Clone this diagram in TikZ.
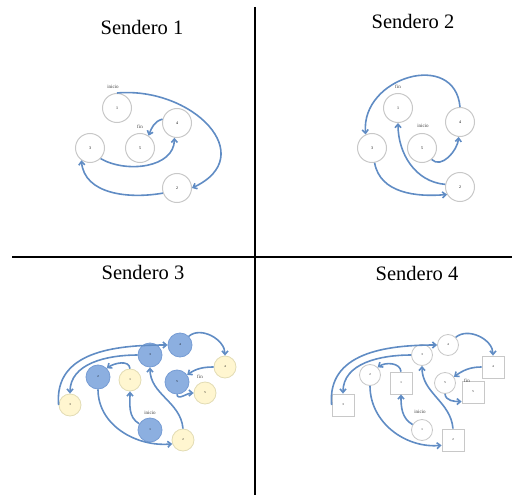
\documentclass[tikz,border=0pt]{standalone}
\usepackage{fontspec}
\setmainfont{Liberation Serif}
\usepackage{tikz}
\usetikzlibrary{arrows.meta,calc,positioning}
\usepackage{xcolor}
\definecolor{arrowblue}{RGB}{96,140,196}
\definecolor{nodeblue}{RGB}{140,175,224}
\definecolor{nodeblueline}{RGB}{118,156,212}
\definecolor{nodeyel}{RGB}{255,246,208}
\definecolor{nodeyelline}{RGB}{226,220,180}
\definecolor{ringgray}{RGB}{200,200,200}

\begin{document}
\begin{tikzpicture}[
    x=1pt, y=-1pt,
    circ/.style={circle, draw=ringgray, line width=1pt, fill=white, minimum size=29pt, inner sep=0pt, font=\fontsize{4}{5}\selectfont},
    bluecirc/.style={circle, draw=nodeblueline, line width=0.8pt, fill=nodeblue, minimum size=24pt, inner sep=0pt, font=\fontsize{3}{4}\selectfont},
    yelcirc/.style={circle, draw=nodeyelline, line width=0.8pt, fill=nodeyel, minimum size=22pt, inner sep=0pt, font=\fontsize{3}{4}\selectfont},
    smallcirc/.style={circle, draw=ringgray, line width=0.8pt, fill=white, minimum size=21pt, inner sep=0pt, font=\fontsize{3}{4}\selectfont},
    sq/.style={rectangle, draw=ringgray, line width=0.8pt, fill=white, minimum size=22pt, inner sep=0pt, font=\fontsize{3}{4}\selectfont},
    arr/.style={draw=arrowblue, line width=1.6pt, -{Straight Barb[length=3.5pt,width=6pt]}},
    tag/.style={font=\fontsize{5}{6}\selectfont, text=black!75},
    title/.style={font=\fontsize{20.5}{24}\selectfont}
]
\useasboundingbox (0,0) rectangle (512,495);

% cuadricula
\draw[line width=1.3pt] (255,7) -- (255,495);
\draw[line width=1.3pt] (12,257) -- (512,257);

\node[title] (t1) at (142,27) {Sendero 1};
\node[title] (t2) at (413,21) {Sendero 2};
\node[title] (t3) at (143,272) {Sendero 3};
\node[title] (t4) at (417,273) {Sendero 4};

% sendero 1
\node[circ] (a1) at (117,108) {1};
\node[circ] (a2) at (177,188) {2};
\node[circ] (a3) at (90,148) {3};
\node[circ] (a4) at (177,123) {4};
\node[circ] (a5) at (140,148) {5};
\node[tag] (ai) at (113,87) {inicio};
\node[tag] (af) at (140,127) {fin};

\draw[arr] (a1.north) to[out=5,in=25,looseness=1.6] (a2.east);
\draw[arr] (a2.200) to[out=190,in=-85] (a3.235);
\draw[arr] (a3.-45) to[out=-30,in=-90] (a4.-100);
\draw[arr] (a4.165) to[out=195,in=70] (a5.55);

% sendero 2
\node[circ] (b1) at (398,108) {1};
\node[circ] (b2) at (460,187) {2};
\node[circ] (b3) at (372,148) {3};
\node[circ] (b4) at (460,122) {4};
\node[circ] (b5) at (422,148) {5};
\node[tag] (bf) at (398,87) {fin};
\node[tag] (bi) at (423,126) {inicio};

\draw[arr] (b5.-50) to[out=-45,in=-95] (b4.-95);
\draw[arr] (b4.north) to[out=95,in=95,looseness=1.5] (b3.115);
\draw[arr] (b3.-80) to[out=-80,in=185] (b2.210);
\draw[arr] (b2.170) to[out=175,in=-90] (b1.south);

% sendero 3
\node[bluecirc] (c1) at (150,430) {1};
\node[bluecirc] (c2) at (98,377) {2};
\node[bluecirc] (c3) at (150,355) {3};
\node[bluecirc] (c4) at (180,345) {4};
\node[bluecirc] (c5) at (177,382) {5};
\node[yelcirc] (d1) at (130,380) {1};
\node[yelcirc] (d2) at (183,440) {2};
\node[yelcirc] (d3) at (70,405) {3};
\node[yelcirc] (d4) at (225,367) {4};
\node[yelcirc] (d5) at (205,393) {5};
\node[tag] (ci) at (150,413) {inicio};
\node[tag] (cf) at (200,377) {fin};

\draw[arr] (c1.150) to[out=150,in=-90] (d1.south);
\draw[arr] (d1.north) to[out=95,in=35] (c2.45);
\draw[arr] (c2.south) to[out=-90,in=185] (d2.200);
\draw[arr] (d2.north) to[out=95,in=-90] (c3.south);
\draw[arr] (c3.west) to[out=180,in=90] (d3.north);
\draw[arr] (d3.west) to[out=95,in=180,looseness=1.1] (c4.west);
\draw[arr] (c4.45) to[out=40,in=90] (d4.north);
\draw[arr] (d4.west) to[out=180,in=35] (c5.35);
\draw[arr] (c5.south) to[out=-85,in=180] (d5.west);

% sendero 4
\node[smallcirc] (e1) at (422,430) {1};
\node[smallcirc] (e2) at (370,375) {2};
\node[smallcirc] (e3) at (422,355) {3};
\node[smallcirc] (e4) at (448,345) {4};
\node[smallcirc] (e5) at (445,383) {5};
\node[sq] (f1) at (401,383) {1};
\node[sq] (f2) at (453,440) {2};
\node[sq] (f3) at (343,405) {3};
\node[sq] (f4) at (493,367) {4};
\node[sq] (f5) at (473,392) {5};
\node[tag] (ei) at (420,412) {inicio};
\node[tag] (ef) at (467,381) {fin};

\draw[arr] (e1.150) to[out=150,in=-90] (f1.south);
\draw[arr] (f1.north) to[out=95,in=35] (e2.45);
\draw[arr] (e2.south) to[out=-90,in=185] (f2.205);
\draw[arr] (f2.north) to[out=95,in=-90] (e3.south);
\draw[arr] (e3.west) to[out=180,in=90] (f3.north);
\draw[arr] (f3.west) to[out=95,in=180,looseness=1.1] (e4.west);
\draw[arr] (e4.45) to[out=40,in=90] (f4.north);
\draw[arr] (f4.west) to[out=180,in=35] (e5.35);
\draw[arr] (e5.south) to[out=-85,in=180] (f5.220);
\end{tikzpicture}
\end{document}
